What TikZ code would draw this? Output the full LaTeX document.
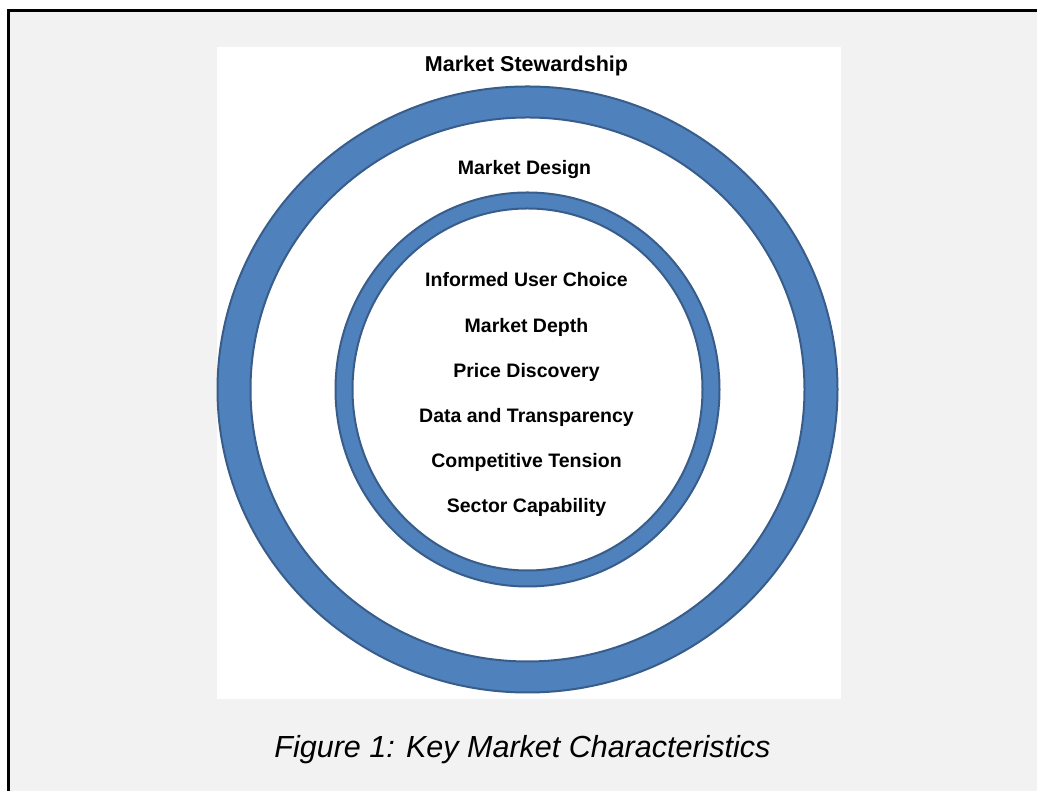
\documentclass[tikz,border=0pt]{standalone}
\usepackage{fontspec}
\setmainfont{Liberation Sans}
\definecolor{band blue}{RGB}{79,129,189}
\definecolor{band edge}{RGB}{56,93,138}
\definecolor{panel grey}{RGB}{242,242,242}

\begin{document}
\begin{tikzpicture}[x=1pt, y=1pt,
                ring band/.style={fill=band blue, draw=band edge, line width=2pt, even odd rule},
                ring label/.style={font=\fontsize{19.5}{23}\selectfont\bfseries, anchor=base},
                title label/.style={font=\fontsize{21.5}{25}\selectfont\bfseries, anchor=base},
                caption text/.style={font=\fontsize{30.5}{36}\selectfont\itshape, anchor=base}]

                \useasboundingbox (0,0) rectangle (1037,791);

                % Grey panel with its frame
                \fill[panel grey] (8,0) rectangle (1037,780);
                \draw[line width=3pt] (8.5,0) -- (8.5,780.5) -- (1037,780.5);
                \fill[white] (217,92) rectangle (841,744);

                % Rings
                \coordinate (hub) at (527.5,401.5);
                \path[ring band] (hub) ellipse [x radius=310, y radius=303]
                                 (hub) ellipse [x radius=277, y radius=272];
                \path[ring band] (hub) ellipse [x radius=192, y radius=197]
                                 (hub) ellipse [x radius=175, y radius=181];

                % Ring titles
                \node[title label] (stewardship) at (526.5,719) {Market Stewardship};
                \node[ring label] (design) at (524.5,616) {Market Design};

                % Characteristics in the centre
                \node[ring label] (choice) at (526.5,504) {Informed User Choice};
                \node[ring label] (depth) at ([yshift=-45.2pt]choice.base) {Market Depth};
                \node[ring label] (price) at ([yshift=-45.2pt]depth.base) {Price Discovery};
                \node[ring label] (data) at ([yshift=-45.2pt]price.base) {Data and Transparency};
                \node[ring label] (tension) at ([yshift=-45.2pt]data.base) {Competitive Tension};
                \node[ring label] (capability) at ([yshift=-45.2pt]tension.base) {Sector Capability};

                % Caption
                \node[caption text] (caption) at (522.5,33) {Figure 1: Key Market Characteristics};
            \end{tikzpicture}
\end{document}
